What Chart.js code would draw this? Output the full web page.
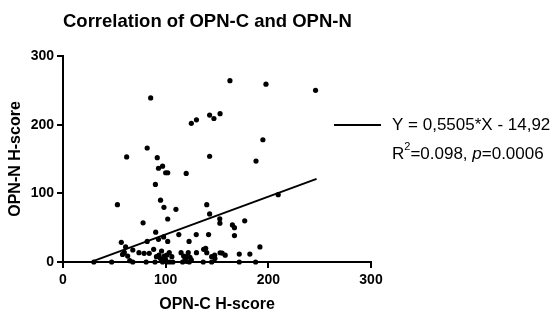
<!DOCTYPE html>
<html>
<head>
<meta charset="utf-8">
<script src="https://cdn.jsdelivr.net/npm/chart.js@4.4.1/dist/chart.umd.min.js"></script>
<style>
  html, body { margin: 0; padding: 0; background: #fff; }
  #wrap { width: 552px; height: 316px; }
</style>
</head>
<body>
<div id="wrap"><canvas id="corr-chart" width="552" height="316"></canvas></div>
<script>
// OPN-C H-score (x) and OPN-N H-score (y)
const opnC = [
  162.6, 197.7, 246, 85.4, 125, 130, 142.8, 147, 153, 194.7,
  82, 62, 91.8, 142.8, 188, 97, 93, 100, 102, 120,
  90, 209.6, 95, 53, 140, 98.3, 110, 142.8, 102, 152.7,
  78, 152.8, 177, 165, 167, 90.3, 112.8, 129.8, 141.8, 167,
  98, 93, 102, 82, 122.8, 56.8, 191.8,
  58, 59.7, 61, 63, 68, 74, 79, 84, 88.3, 91,
  93.5, 96, 98.6, 100, 101, 103.5, 106, 115, 117.5, 120,
  122, 123.7, 130, 137, 139, 140, 144.8, 147.7, 153, 155,
  158, 171.7, 182, 148, 95, 119,
  30, 47.4, 65, 68, 81, 89.6, 97, 99, 101, 104,
  107, 116.5, 120, 123, 125, 136.6, 144.8, 171.7, 187.6
];
const opnN = [
  264, 259, 250, 239, 202, 207, 214, 209, 216, 178,
  166, 153, 152, 154, 147, 139.5, 136.5, 130, 130, 129,
  113, 98, 90, 83.5, 83.5, 79.6, 76.7, 70, 62.6, 63,
  57, 56.5, 60, 54, 50, 43.5, 40, 40, 40, 38.5,
  36.5, 33, 30, 30, 30, 28.7, 22,
  11, 14, 22, 8.7, 17.5, 13.6, 12.6, 12.6, 18.5, 7.8,
  10, 16, 8.7, 3, 10, 13.6, 7.8, 13.6, 8.7, 7.8,
  13.6, 6.8, 13.6, 18.5, 20, 13.6, 7.8, 10, 13.5, 13,
  10, 11.6, 11.6, 5, 5, 4,
  0, 0, 2, 0, 0, 0, 0, 4, 0, 0,
  0, 0, 1, 0, 3, 0, 0, 0, 0
];

// linear fit as printed on the chart
const fitSlope = 0.5505;
const fitIntercept = -14.92;
const fitRange = [30, 247];

const xTicks = [0, 100, 200, 300];
const yTicks = [0, 100, 200, 300];

const fitLabel = 'Y = 0,5505*X - 14,92';
const statsLabel = ['R', '2', '=0.098, ', 'p', '=0.0006'];

const points = opnC.map((x, i) => ({ x: x, y: opnN[i] }));
const fitLine = fitRange.map(x => ({ x: x, y: fitSlope * x + fitIntercept }));

const FONT = "'Liberation Sans', Arial, Helvetica, sans-serif";

// legend text with superscript and italic p
const fitLegend = {
  id: 'fitLegend',
  afterDraw(chart) {
    const ctx = chart.ctx;
    ctx.save();
    ctx.strokeStyle = '#000';
    ctx.lineWidth = 2;
    ctx.beginPath();
    ctx.moveTo(334, 125);
    ctx.lineTo(381, 125);
    ctx.stroke();

    ctx.fillStyle = '#000';
    ctx.textBaseline = 'middle';
    ctx.textAlign = 'left';
    ctx.font = '17px ' + FONT;
    ctx.fillText(fitLabel, 392, 125);

    let x = 392;
    const y = 154;
    ctx.font = '17px ' + FONT;
    ctx.fillText(statsLabel[0], x, y);
    x += ctx.measureText(statsLabel[0]).width;
    ctx.font = '11px ' + FONT;
    ctx.fillText(statsLabel[1], x, y - 7);
    x += ctx.measureText(statsLabel[1]).width;
    ctx.font = '17px ' + FONT;
    ctx.fillText(statsLabel[2], x, y);
    x += ctx.measureText(statsLabel[2]).width;
    ctx.font = 'italic 17px ' + FONT;
    ctx.fillText(statsLabel[3], x, y);
    x += ctx.measureText(statsLabel[3]).width;
    ctx.font = '17px ' + FONT;
    ctx.fillText(statsLabel[4], x, y);
    ctx.restore();
  }
};

const corrChart = new Chart(document.getElementById('corr-chart'), {
  type: 'scatter',
  data: {
    datasets: [{
      label: 'samples',
      data: points,
      backgroundColor: '#000',
      borderWidth: 0,
      pointRadius: 2.6,
      pointHoverRadius: 2.6,
      clip: false
    }, {
      type: 'line',
      label: 'fit',
      data: fitLine,
      borderColor: '#000',
      borderWidth: 2,
      pointRadius: 0,
      fill: false,
      clip: false
    }]
  },
  options: {
    responsive: false,
    animation: false,
    layout: { padding: { left: 0, right: 181, top: 0, bottom: 0 } },
    plugins: {
      legend: { display: false },
      tooltip: { enabled: false },
      title: {
        display: true,
        text: 'Correlation of OPN-C and OPN-N',
        fullSize: false,
        align: 'start',
        color: '#000',
        font: { family: FONT, size: 18.5, weight: 'bold' },
        padding: { top: 11, bottom: 22.8 }
      }
    },
    scales: {
      x: {
        type: 'linear',
        min: 0,
        max: 300,
        afterBuildTicks: s => { s.ticks = xTicks.map(v => ({ value: v })); },
        afterFit: s => { s.height = 54; },
        ticks: {
          color: '#000',
          padding: 4,
          font: { family: FONT, size: 14, weight: 'bold' }
        },
        grid: { drawOnChartArea: false, drawTicks: true, tickLength: 6, color: '#000', lineWidth: 2 },
        border: { display: true, color: '#000', width: 2 },
        title: {
          display: true,
          text: 'OPN-C H-score',
          color: '#000',
          font: { family: FONT, size: 16, weight: 'bold' },
          padding: { top: 0, bottom: 2 }
        }
      },
      y: {
        type: 'linear',
        min: 0,
        max: 300,
        afterBuildTicks: s => { s.ticks = yTicks.map(v => ({ value: v })); },
        afterFit: s => { s.width = 63; },
        ticks: {
          color: '#000',
          padding: 3,
          font: { family: FONT, size: 14, weight: 'bold' }
        },
        grid: { drawOnChartArea: false, drawTicks: true, tickLength: 6, color: '#000', lineWidth: 2 },
        border: { display: true, color: '#000', width: 2 },
        title: {
          display: true,
          text: 'OPN-N H-score',
          color: '#000',
          font: { family: FONT, size: 16, weight: 'bold' },
          padding: { top: 6, bottom: 0 }
        }
      }
    }
  },
  plugins: [fitLegend]
});
</script>
</body>
</html>
